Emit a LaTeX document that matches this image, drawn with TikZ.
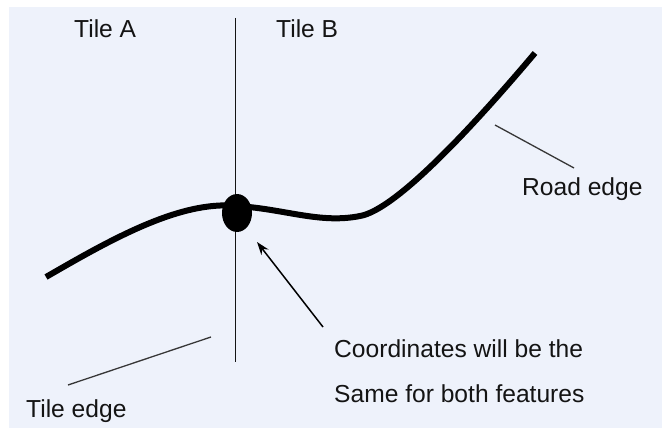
\documentclass[tikz,border=0pt]{standalone}
\usepackage{fontspec}
\setmainfont{Liberation Sans}
\usetikzlibrary{arrows.meta,shapes.geometric}
\definecolor{bgblue}{RGB}{238,242,251}
\definecolor{ink}{RGB}{20,20,20}
\tikzset{
  lbl/.style={inner sep=0pt, text=ink, font=\fontsize{24.6}{45}\selectfont},
  leader/.style={draw=ink!85, line width=1.3pt},
  road/.style={draw=black, line width=6pt},
  tileline/.style={draw=ink, line width=1pt},
  pointer/.style={draw=black, line width=1.5pt, -{Stealth[length=13pt,width=9pt]}}
}
\begin{document}
\begin{tikzpicture}[x=1pt,y=-1pt]
\useasboundingbox (0,0) rectangle (662,428);
\fill[white] (0,0) rectangle (662,428);
\fill[bgblue] (9,7) rectangle (662,428);
% tile edge
\coordinate (vt) at (235,18);
\coordinate (vb) at (235,362);
\draw[tileline] (vt) -- (vb);
% road
\draw[road] (46,277) .. controls (110,240) and (180,200) .. (237,206)
  .. controls (285,209) and (320,224) .. (360,216)
  .. controls (395,210) and (470,130) .. (535,53);
% join point
\node[fill=black, ellipse, minimum width=30pt, minimum height=38pt, inner sep=0pt] (dot) at (237,213) {};
% labels
\node[lbl, anchor=base west] (tileA) at (74,38) {Tile A};
\node[lbl, anchor=base west] (tileB) at (276,38) {Tile B};
\node[lbl, anchor=base west] (roadedge) at (522,195) {Road edge};
\node[lbl, anchor=west, align=left] (coords) at (334,371.4) {Coordinates will be the\\Same for both features};
\node[lbl, anchor=base west] (tileedge) at (26,417) {Tile edge};
% leaders
\coordinate (reA) at (495,125);
\coordinate (reB) at (574,168);
\draw[leader] (reA) -- (reB);
\coordinate (teA) at (211,337);
\coordinate (teB) at (68,385);
\draw[leader] (teA) -- (teB);
\coordinate (arT) at (323,327);
\coordinate (arH) at (257,242);
\draw[pointer] (arT) -- (arH);
\end{tikzpicture}
\end{document}
